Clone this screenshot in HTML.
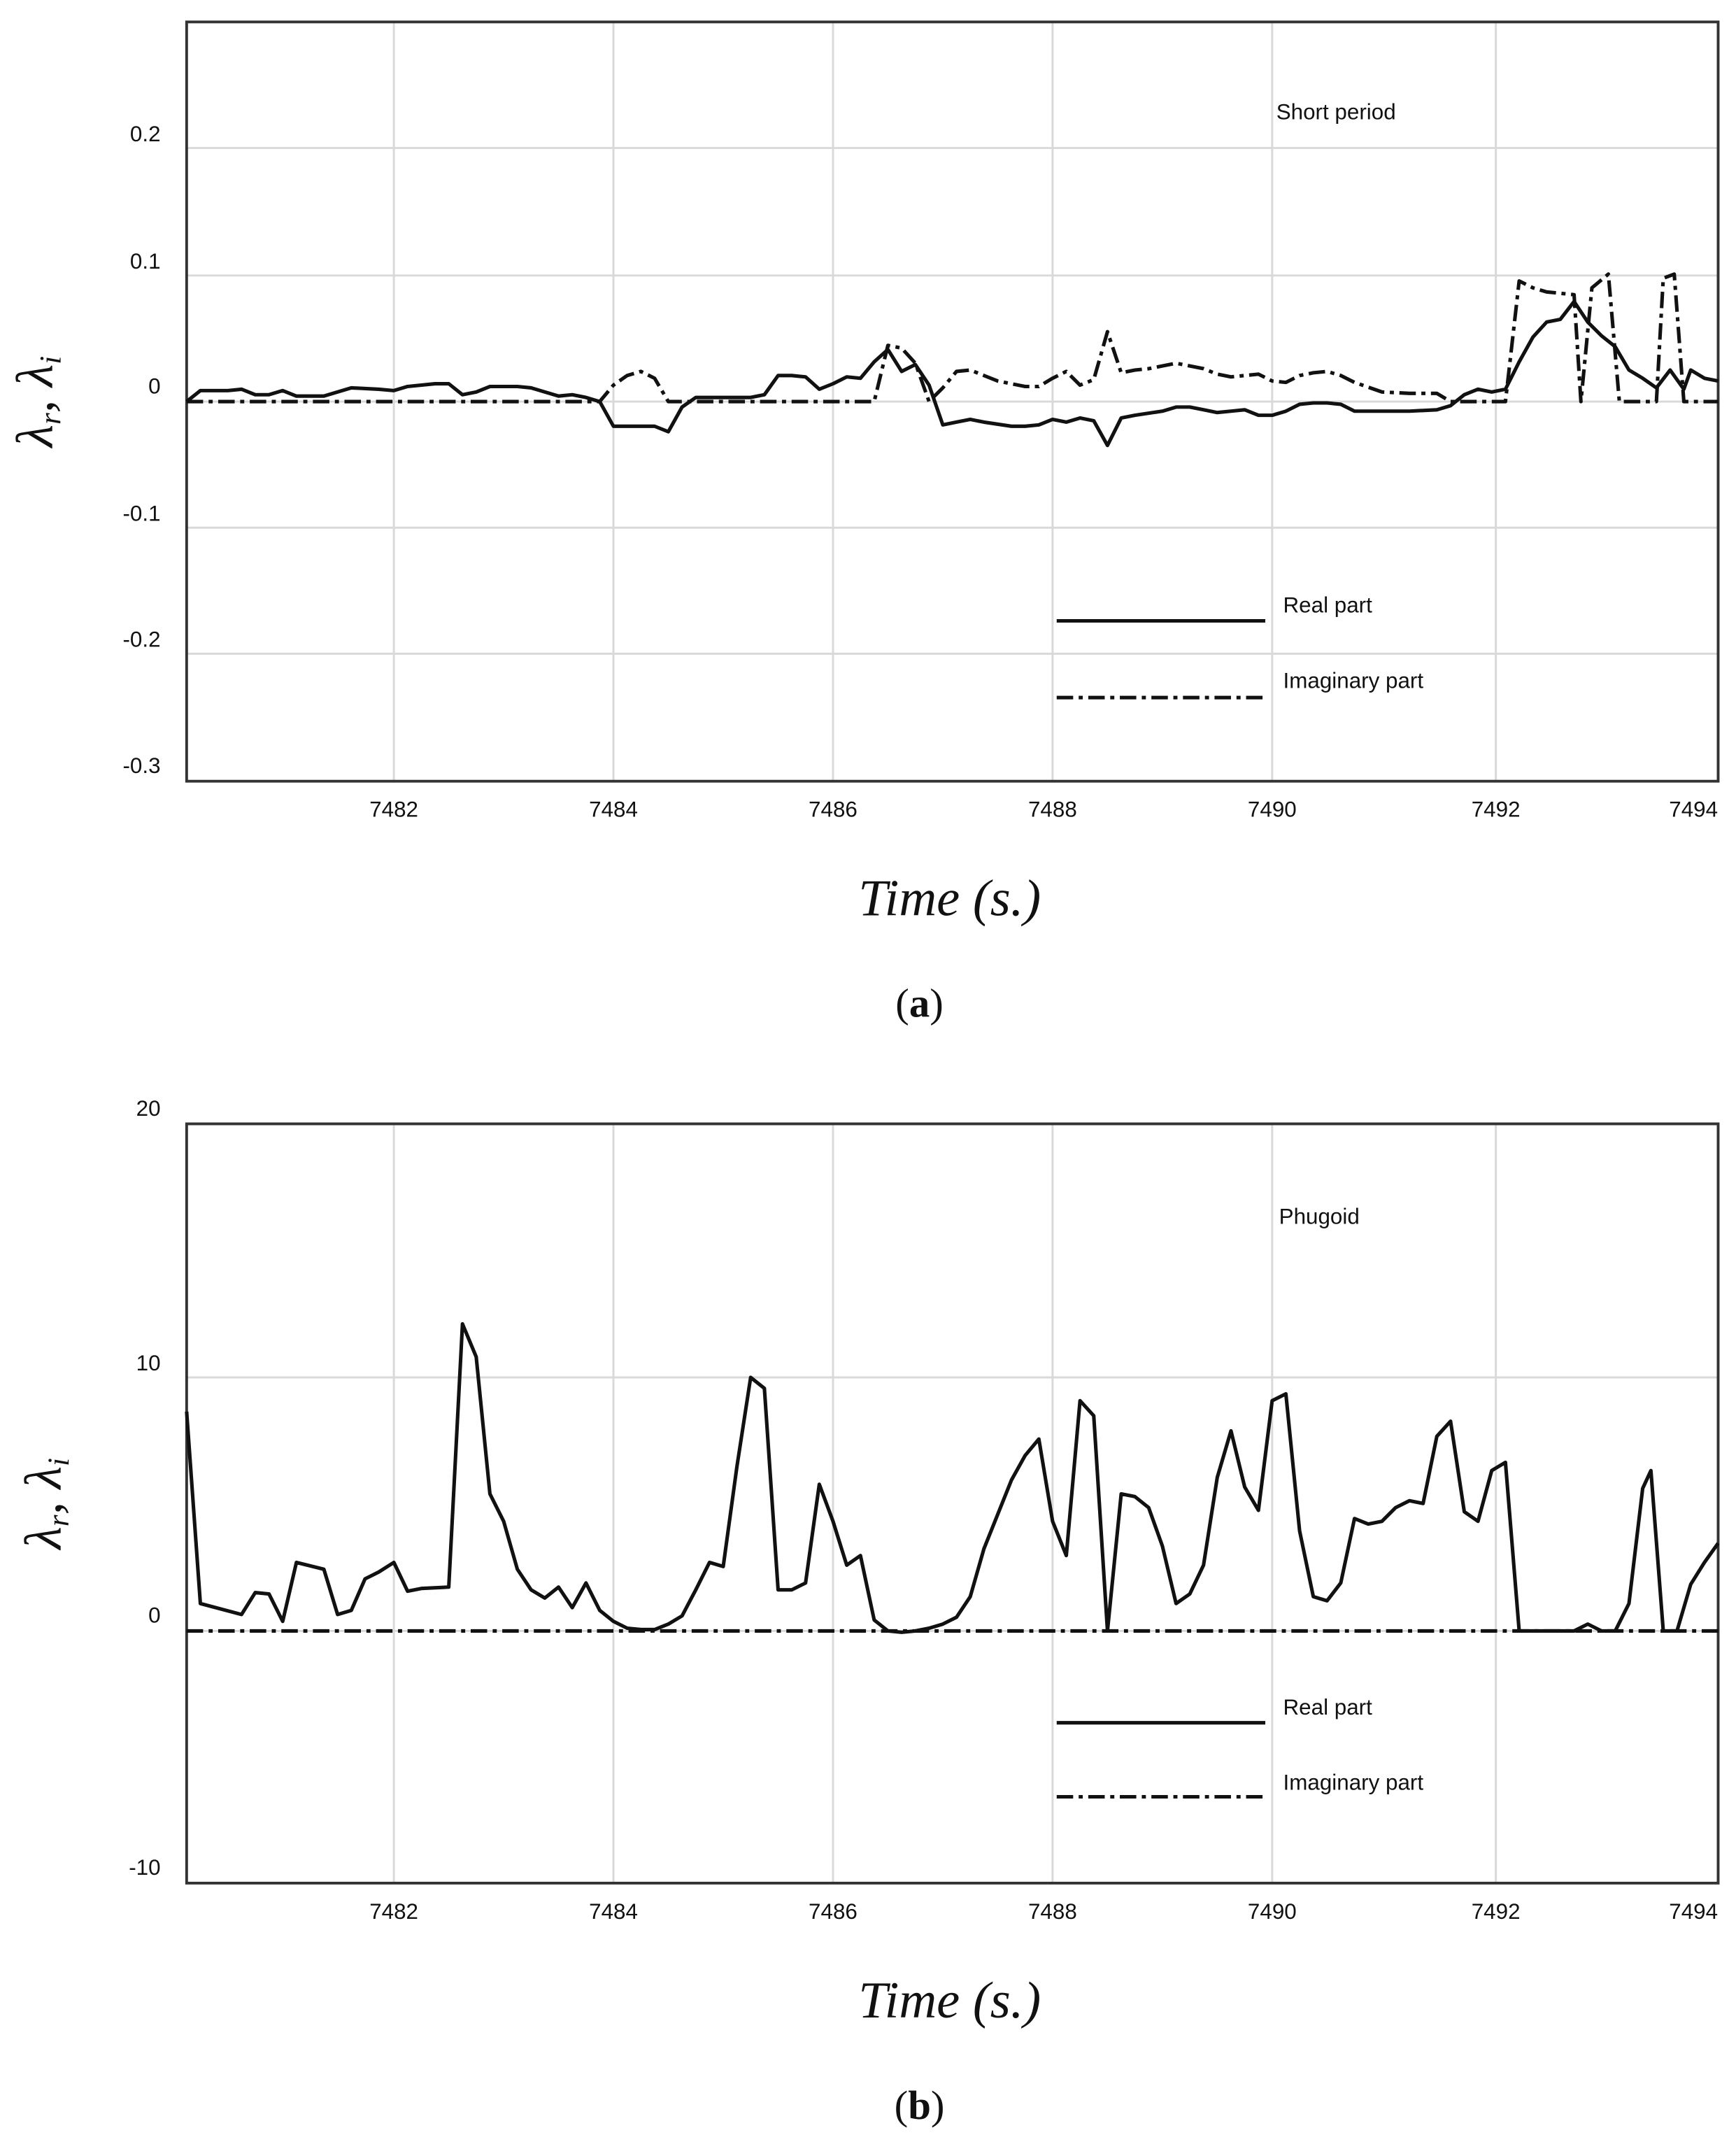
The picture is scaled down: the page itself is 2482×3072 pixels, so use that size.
<!DOCTYPE html>
<html><head><meta charset="utf-8"><style>
html,body{margin:0;padding:0;background:#fff;}
svg{display:block;}
.t{font-family:"Liberation Sans",sans-serif;font-size:16px;fill:#111;}
.ax{font-family:"Liberation Serif",serif;font-style:italic;font-size:38px;fill:#111;}
.cap{font-family:"Liberation Serif",serif;font-size:30px;fill:#111;}
</style></head><body>
<svg width="2482" height="3072" viewBox="0 0 1265 1568" preserveAspectRatio="none" xmlns="http://www.w3.org/2000/svg">
<rect width="1265" height="1568" fill="#fff"/>
<!-- Panel a -->
<g stroke="#d9d9d9" stroke-width="1.5">
<line x1="287" y1="16" x2="287" y2="570"/><line x1="447" y1="16" x2="447" y2="570"/><line x1="607" y1="16" x2="607" y2="570"/><line x1="767" y1="16" x2="767" y2="570"/><line x1="927" y1="16" x2="927" y2="570"/><line x1="1090" y1="16" x2="1090" y2="570"/>
<line x1="136" y1="108" x2="1252" y2="108"/><line x1="136" y1="201" x2="1252" y2="201"/><line x1="136" y1="293" x2="1252" y2="293"/><line x1="136" y1="385" x2="1252" y2="385"/><line x1="136" y1="477" x2="1252" y2="477"/>
</g>
<rect x="136" y="16" width="1116" height="554" fill="none" stroke="#333" stroke-width="2"/>
<g class="t" text-anchor="end"><text x="117" y="103">0.2</text><text x="117" y="196">0.1</text><text x="117" y="287">0</text><text x="117" y="380">-0.1</text><text x="117" y="472">-0.2</text><text x="117" y="564">-0.3</text></g>
<g class="t" text-anchor="middle"><text x="287" y="596">7482</text><text x="447" y="596">7484</text><text x="607" y="596">7486</text><text x="767" y="596">7488</text><text x="927" y="596">7490</text><text x="1090" y="596">7492</text><text x="1234" y="596">7494</text></g>
<text class="t" x="930" y="87">Short period</text>
<text class="t" x="935" y="447">Real part</text>
<text class="t" x="935" y="502">Imaginary part</text>
<line x1="770" y1="453" x2="922" y2="453" stroke="#111" stroke-width="2.6"/>
<line x1="770" y1="509" x2="922" y2="509" stroke="#111" stroke-width="2.6" stroke-dasharray="12,4,3,4"/>
<text class="ax" x="692" y="668" text-anchor="middle">Time (s.)</text>
<text class="cap" x="670" y="742" text-anchor="middle">(<tspan font-weight="bold">a</tspan>)</text>
<text class="ax" transform="translate(38,293) rotate(-90)" text-anchor="middle" font-size="32">λ<tspan font-size="22" dy="6">r</tspan><tspan dy="-6">, λ</tspan><tspan font-size="22" dy="6">i</tspan></text>
<polyline fill="none" stroke="#111" stroke-width="2.6" stroke-linejoin="round" points="136,293 146,285 166,285 176,284 186,288 196,288 206,285 216,289 236,289 256,283 276,284 287,285 297,282 317,280 327,280 337,288 347,286 357,282 377,282 387,283 397,286 407,289 417,288 427,290 437,293 447,311 467,311 477,311 487,315 497,297 507,290 527,290 547,290 557,288 567,274 577,274 587,275 597,284 607,280 617,275 627,276 637,264 647,255 657,271 667,266 677,281 687,310 697,308 707,306 717,308 737,311 747,311 757,310 767,306 777,308 787,305 797,307 807,325 817,305 827,303 847,300 857,297 867,297 877,299 887,301 897,300 907,299 917,303 927,303 937,300 947,295 957,294 967,294 977,295 987,300 1007,300 1027,300 1047,299 1057,296 1067,288 1077,284 1087,286 1097,284 1107,264 1117,246 1127,235 1137,233 1147,220 1157,235 1167,245 1177,253 1187,270 1197,276 1207,283 1217,270 1227,284 1232,270 1242,276 1252,278"/>
<polyline fill="none" stroke="#111" stroke-width="2.6" stroke-dasharray="12,4,3,4" stroke-linejoin="round" points="136,293 437,293 447,281 457,274 467,271 477,276 487,293 637,293 647,252 657,254 667,265 677,293 687,283 697,271 707,270 717,274 727,278 737,280 747,282 757,282 767,276 777,271 787,281 797,277 807,242 817,272 827,270 837,269 847,267 857,265 867,267 877,269 887,273 897,275 907,274 917,273 927,278 937,279 947,274 957,272 967,271 977,274 987,279 1007,286 1027,287 1047,287 1057,293 1097,293 1107,205 1117,210 1127,213 1137,214 1147,215 1152,293 1160,210 1172,200 1180,293 1207,293 1212,203 1220,200 1227,293 1252,293"/>
<!-- Panel b -->
<g stroke="#d9d9d9" stroke-width="1.5">
<line x1="287" y1="820" x2="287" y2="1374"/><line x1="447" y1="820" x2="447" y2="1374"/><line x1="607" y1="820" x2="607" y2="1374"/><line x1="767" y1="820" x2="767" y2="1374"/><line x1="927" y1="820" x2="927" y2="1374"/><line x1="1090" y1="820" x2="1090" y2="1374"/>
<line x1="136" y1="1005" x2="1252" y2="1005"/><line x1="136" y1="1190" x2="1252" y2="1190"/>
</g>
<rect x="136" y="820" width="1116" height="554" fill="none" stroke="#333" stroke-width="2"/>
<g class="t" text-anchor="end"><text x="117" y="814">20</text><text x="117" y="1000">10</text><text x="117" y="1184">0</text><text x="117" y="1368">-10</text></g>
<g class="t" text-anchor="middle"><text x="287" y="1400">7482</text><text x="447" y="1400">7484</text><text x="607" y="1400">7486</text><text x="767" y="1400">7488</text><text x="927" y="1400">7490</text><text x="1090" y="1400">7492</text><text x="1234" y="1400">7494</text></g>
<text class="t" x="932" y="893">Phugoid</text>
<text class="t" x="935" y="1251">Real part</text>
<text class="t" x="935" y="1306">Imaginary part</text>
<line x1="770" y1="1257" x2="922" y2="1257" stroke="#111" stroke-width="2.6"/>
<line x1="770" y1="1311" x2="922" y2="1311" stroke="#111" stroke-width="2.6" stroke-dasharray="12,4,3,4"/>
<text class="ax" x="692" y="1472" text-anchor="middle">Time (s.)</text>
<text class="cap" x="670" y="1546" text-anchor="middle">(<tspan font-weight="bold">b</tspan>)</text>
<text class="ax" transform="translate(44,1097) rotate(-90)" text-anchor="middle" font-size="32">λ<tspan font-size="22" dy="6">r</tspan><tspan dy="-6">, λ</tspan><tspan font-size="22" dy="6">i</tspan></text>
<line x1="136" y1="1190" x2="1252" y2="1190" stroke="#111" stroke-width="2.6" stroke-dasharray="12,4,3,4"/>
<polyline fill="none" stroke="#111" stroke-width="2.6" stroke-linejoin="round" points="136,1030 146,1170 176,1178 186,1162 196,1163 206,1183 216,1140 236,1145 246,1178 256,1175 266,1152 276,1147 287,1140 297,1161 307,1159 327,1158 337,966 347,990 357,1090 367,1110 377,1145 387,1160 397,1166 407,1158 417,1173 427,1155 437,1175 447,1183 457,1188 467,1189 477,1189 487,1185 497,1179 507,1160 517,1140 527,1143 537,1070 547,1005 557,1013 567,1160 577,1160 587,1155 597,1083 607,1110 617,1142 627,1135 637,1182 647,1190 657,1191 667,1190 677,1188 687,1185 697,1180 707,1165 717,1130 727,1105 737,1080 747,1062 757,1050 767,1110 777,1135 787,1022 797,1033 807,1190 817,1090 827,1092 837,1100 847,1128 857,1170 867,1163 877,1142 887,1078 897,1044 907,1085 917,1102 927,1022 937,1017 947,1117 957,1165 967,1168 977,1155 987,1108 997,1112 1007,1110 1017,1100 1027,1095 1037,1097 1047,1048 1057,1037 1067,1103 1077,1110 1087,1073 1097,1067 1107,1190 1147,1190 1157,1185 1167,1190 1177,1190 1187,1170 1197,1086 1203,1073 1212,1190 1222,1190 1232,1156 1242,1140 1252,1126"/>
</svg>
</body></html>
